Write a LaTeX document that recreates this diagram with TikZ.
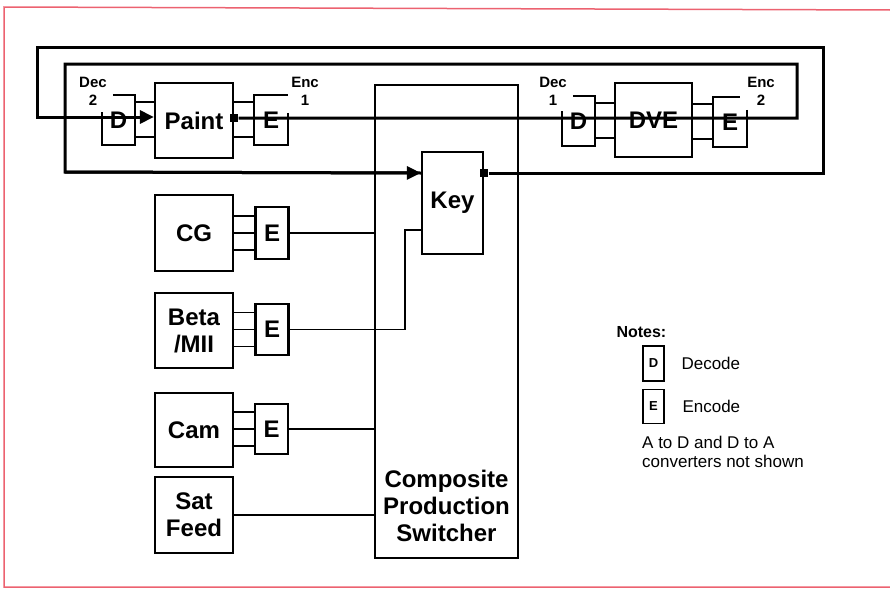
\documentclass[tikz,border=0pt]{standalone}
\usepackage{fontspec}
\setmainfont{Liberation Sans}
\usetikzlibrary{arrows.meta}
\definecolor{framered}{RGB}{236,98,112}
\newcommand{\bigtxt}{\fontsize{24}{27}\selectfont\bfseries}
\newcommand{\smalltxt}{\fontsize{15}{18}\selectfont\bfseries}
\newcommand{\notetxt}{\fontsize{17}{19}\selectfont}

\begin{document}
\begin{tikzpicture}[x=1pt,y=-1pt,
    blk/.style={draw,line width=2.2pt,minimum width=78pt,minimum height=75pt,inner sep=0pt,align=center,font=\bigtxt},
    codec/.style={minimum width=33pt,minimum height=50pt,inner sep=0pt,font=\bigtxt},
    wire/.style={line width=1.7pt},
    loopline/.style={line width=3pt},
    tag/.style={align=center,font=\smalltxt},
    dot/.style={fill,inner sep=0pt,minimum size=8.5pt}]
    \useasboundingbox (0,0) rectangle (890,589);
    \draw[framered,line width=1.5pt] (890,10) -- (4,7) -- (4,587) -- (890,587);

    % switcher and key
    \node[draw,line width=2.2pt,minimum width=143pt,minimum height=473pt] (sw) at (446.5,321.5) {};
    \node[align=center,font=\bigtxt] (swtext) at (446.5,506) {Composite\\Production\\Switcher};
    \node[draw,line width=2.2pt,minimum width=61pt,minimum height=102pt,font=\bigtxt] (key) at (452.5,203) {Key};

    % top row: paint and dve
    \node[blk] (paint) at (194,120.5) {Paint};
    \node[codec] (dec2) at (118.5,120) {D};
    \node[codec] (enc1) at (271,120) {E};
    \node[blk,minimum width=77pt,minimum height=74pt] (dve) at (653.5,120) {DVE};
    \node[codec] (dec1) at (578.5,121) {D};
    \node[codec] (enc2) at (730,122) {E};
    \node[tag] (dec2lbl) at (93,91) {Dec\\2};
    \node[tag] (enc1lbl) at (305,91) {Enc\\1};
    \node[tag] (dec1lbl) at (553,91) {Dec\\1};
    \node[tag] (enc2lbl) at (761,91) {Enc\\2};
    \node[dot] (pdot) at (paint.east |- 0,118) {};
    \node[dot] (kdot) at (key.east |- 0,173) {};
    \coordinate (kin) at (key.west |- 0,173);

    % sources
    \node[blk,minimum height=76pt] (cg) at (194,233) {CG};
    \node[blk] (beta) at (194,330.5) {Beta\\/MII};
    \node[blk,minimum height=74pt] (cam) at (194,430) {Cam};
    \node[blk,minimum height=76pt] (sat) at (194,515) {Sat\\Feed};
    \node[codec,draw,line width=2.2pt,minimum height=52pt] (ecg) at (272,233) {E};
    \node[codec,draw,line width=2.2pt,minimum height=51pt] (ebeta) at (272,329.5) {E};
    \node[codec,draw,line width=2.2pt] (ecam) at (271.5,429) {E};

    % loops
    \draw[loopline,-{Triangle[length=14pt,width=13pt]}] (kdot) -- (823,173) -- (823,47) -- (37,47) -- (37,117) -- (paint.west |- 0,117);
    \draw[loopline] (pdot) -- (797,118) -- (797,64) -- (65,64) -- (65,172) -- (kin);
    \draw[loopline,-{Triangle[length=14pt,width=13pt]}] (65,172) -- (kin);

    % codec outlines, open at the label corner
    \draw[line width=2.2pt] ([xshift=11pt]dec2.north west) -- (dec2.north east) -- (dec2.south east) -- (dec2.south west) -- ([yshift=-17pt]dec2.north west);
    \draw[line width=2.2pt] ([yshift=-18pt]enc1.north east) -- (enc1.south east) -- (enc1.south west) -- (enc1.north west) -- (enc1.north east);
    \draw[line width=2.2pt] ([xshift=11pt]dec1.north west) -- (dec1.north east) -- (dec1.south east) -- (dec1.south west) -- ([yshift=-15pt]dec1.north west);
    \draw[line width=2.2pt] ([yshift=-13pt]enc2.north east) -- (enc2.south east) -- (enc2.south west) -- (enc2.north west) -- ([xshift=-7pt]enc2.north east);

    % stubs
    \foreach \s in {18,-17} {
        \draw[wire] ([yshift=\s pt]dec2.east) -- ([yshift=\s pt]dec2.east -| paint.west);
        \draw[wire] ([yshift=\s pt]enc1.west -| paint.east) -- ([yshift=\s pt]enc1.west);
        \draw[wire] ([yshift=\s pt]dec1.east) -- ([yshift=\s pt]dec1.east -| dve.west);
        \draw[wire] ([yshift=\s pt]enc2.west -| dve.east) -- ([yshift=\s pt]enc2.west);
    }
    \foreach \src/\enc in {cg/ecg,beta/ebeta,cam/ecam}
        \foreach \s in {17,0,-17}
            \draw[wire] ([yshift=\s pt]\enc.west -| \src.east) -- ([yshift=\s pt]\enc.west);

    % into the switcher
    \draw[wire] (ecg.east) -- (ecg.east -| sw.west);
    \draw[wire] (ebeta.east) -- (405,329.5) -- (405,230) -- (key.west |- 0,230);
    \draw[wire] (ecam.east) -- (ecam.east -| sw.west);
    \draw[wire] (sat.east) -- (sat.east -| sw.west);

    % notes
    \node[anchor=west,font=\fontsize{16}{18}\selectfont\bfseries] (notes) at (613,332) {Notes:};
    \node[draw,line width=1.8pt,minimum width=21pt,minimum height=35pt,inner sep=0pt,font=\fontsize{13}{15}\selectfont\bfseries] (nd) at (653.5,363.5) {D};
    \node[anchor=west,font=\notetxt] (ndtxt) at (678,363) {Decode};
    \node[draw,line width=1.8pt,minimum width=21pt,minimum height=34pt,inner sep=0pt,font=\fontsize{13}{15}\selectfont\bfseries] (ne) at (653.5,406.5) {E};
    \node[anchor=west,font=\notetxt] (netxt) at (679,406) {Encode};
    \node[anchor=north west,align=left,inner sep=0pt,font=\notetxt] (nconv) at (642,436) {A to D and D to A\\converters not shown};
\end{tikzpicture}
\end{document}
